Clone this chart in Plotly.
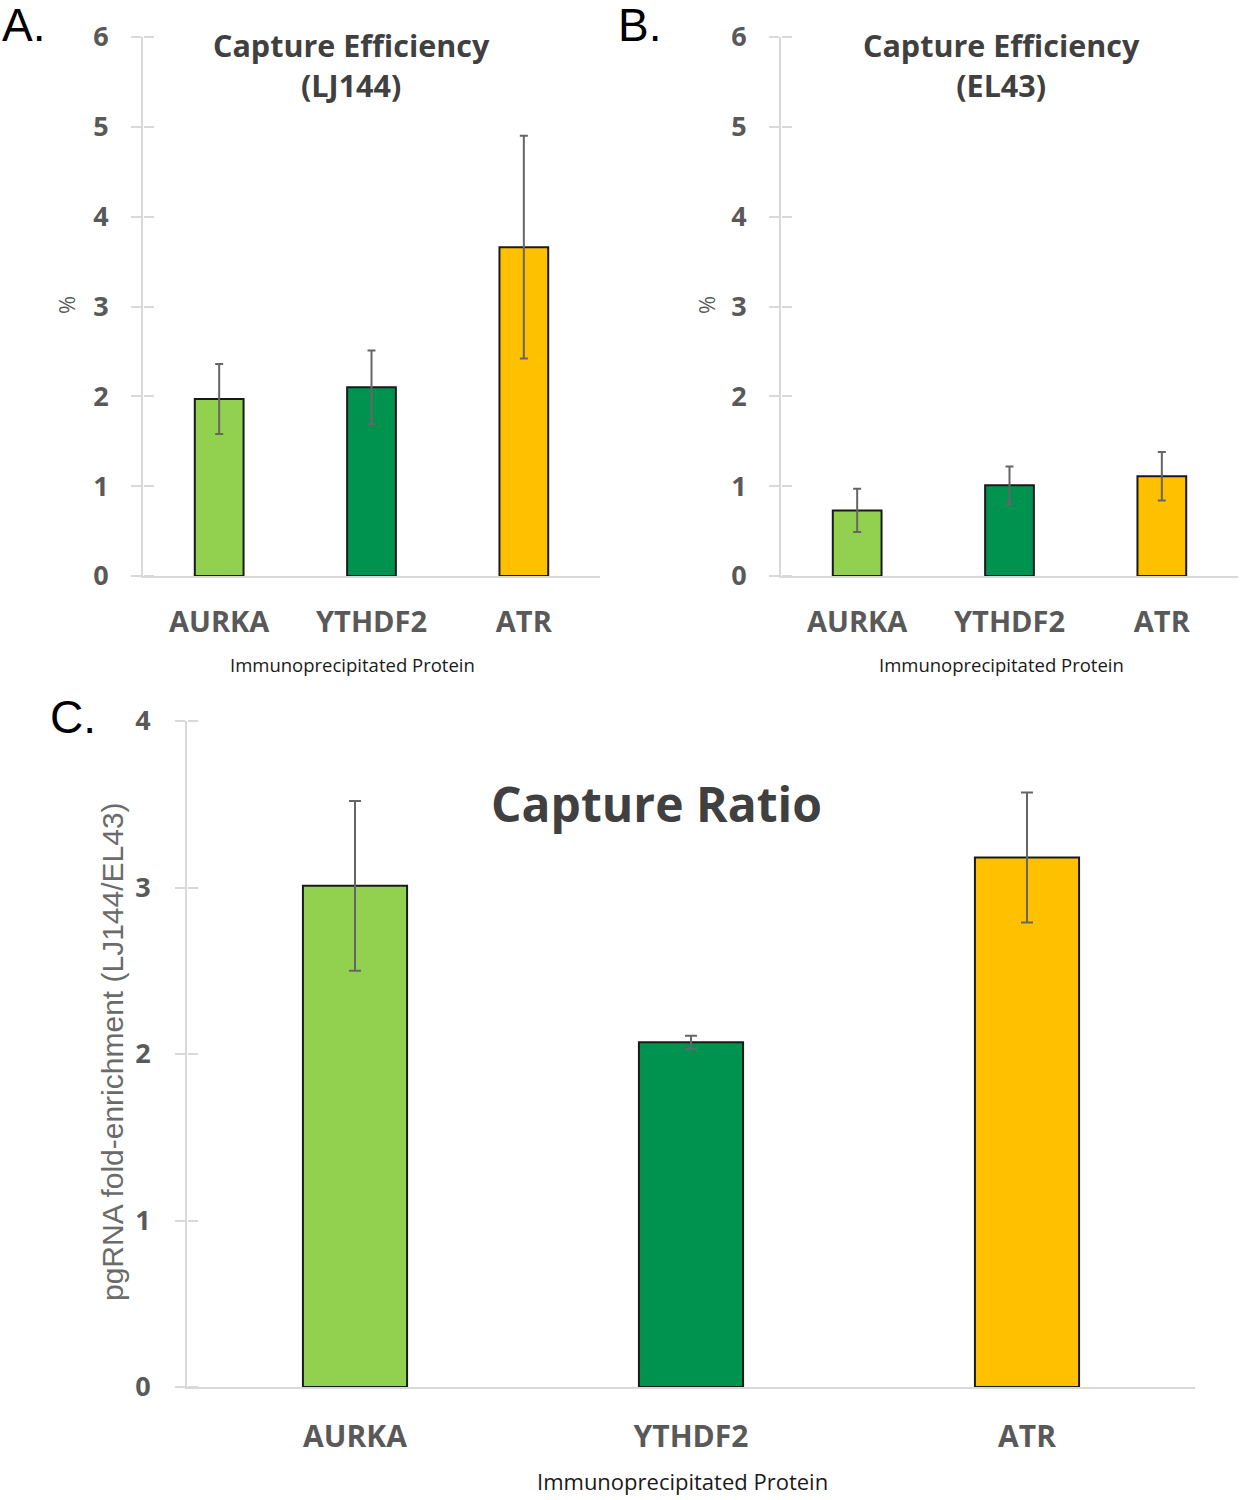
import plotly.graph_objects as go

categories = ["AURKA", "YTHDF2", "ATR"]
colors = ["#92D050", "#00924F", "#FFC000"]

lj144_values = [1.97, 2.10, 3.66]
lj144_errors = [0.39, 0.41, 1.24]

el43_values = [0.73, 1.01, 1.11]
el43_errors = [0.24, 0.21, 0.27]

ratio_values = [3.01, 2.07, 3.18]
ratio_errors = [0.51, 0.04, 0.39]

yticks_ab = [0, 1, 2, 3, 4, 5, 6]
yticks_c = [0, 1, 2, 3, 4]

TICKFONT = "Open Sans"
AXC = "#D9D9D9"
LABC = "#595959"
TITC = "#404040"

fig = go.Figure()

def add_bars(vals, errs, xa, ya, width, capw):
    fig.add_trace(go.Bar(
        x=categories, y=vals, xaxis=xa, yaxis=ya, width=width,
        marker=dict(color=colors, line=dict(color="#1a1a1a", width=2)),
        error_y=dict(type="data", array=errs, visible=True, color="#666666",
                     thickness=2, width=capw),
        showlegend=False))

add_bars(lj144_values, lj144_errors, "x", "y", 0.32, 4)
add_bars(el43_values, el43_errors, "x2", "y2", 0.32, 4)
add_bars(ratio_values, ratio_errors, "x3", "y3", 0.31, 6)

# dummy traces for overlay tick axes (ticks crossing the axis line)
for ya, xa in (("y4", "x"), ("y5", "x2"), ("y6", "x3")):
    fig.add_trace(go.Scatter(x=[categories[0]], y=[0], xaxis=xa, yaxis=ya,
                             mode="markers", marker=dict(opacity=0),
                             showlegend=False, hoverinfo="skip"))

dA = [143/1242, 600/1242]
dB = [781/1242, 1238/1242]
dC = [187/1242, 1195/1242]
yAB = [1-576/1500, 1-37/1500]
yC = [1-1387/1500, 1-721/1500]

def xax(domain, anchor, size, standoff):
    return dict(domain=domain, anchor=anchor, showline=True, linecolor=AXC, linewidth=2,
                showgrid=False, ticks="", zeroline=False, automargin=False,
                tickfont=dict(family=TICKFONT, size=size, color=LABC, weight="bold"),
                ticklabelstandoff=standoff, fixedrange=True)

def yax(domain, anchor, rng, tv, standoff):
    return dict(domain=domain, anchor=anchor, range=rng, tickvals=tv, showline=True,
                linecolor=AXC, linewidth=2, showgrid=False, zeroline=False, automargin=False,
                ticks="outside", ticklen=10, tickwidth=2, tickcolor=AXC,
                tickfont=dict(family=TICKFONT, size=27, color=LABC, weight="bold"),
                ticklabelstandoff=standoff)

def yov(domain, over, rng, tv, pos):
    return dict(domain=domain, overlaying=over, anchor="free", position=pos, side="right",
                range=rng, tickvals=tv, showline=False, showgrid=False, zeroline=False,
                ticks="outside", ticklen=10, tickwidth=2, tickcolor=AXC, automargin=False,
                showticklabels=False)

fig.update_layout(
    width=1242, height=1500, margin=dict(l=0, r=0, t=0, b=0, pad=0), autosize=False,
    paper_bgcolor="white", plot_bgcolor="white", bargap=0.68,
    xaxis=xax(dA, "y", 29, 19),
    yaxis=yax(yAB, "x", [0, 6], yticks_ab, 17),
    xaxis2=xax(dB, "y2", 29, 19),
    yaxis2=yax(yAB, "x2", [0, 6], yticks_ab, 17),
    xaxis3=xax(dC, "y3", 30, 22),
    yaxis3=yax(yC, "x3", [0, 4], yticks_c, 19),
    yaxis4=yov(yAB, "y", [0, 6], yticks_ab, dA[0]),
    yaxis5=yov(yAB, "y2", [0, 6], yticks_ab, dB[0]),
    yaxis6=yov(yC, "y3", [0, 4], yticks_c, dC[0]),
)

ann = []
def A(text, x, y, size, color, family=TICKFONT, bold=False, angle=0, xanchor="center"):
    ann.append(dict(text=text, x=x/1242, y=1-y/1500, xref="paper", yref="paper",
                    showarrow=False, xanchor=xanchor, yanchor="middle", textangle=angle,
                    font=dict(family=family, size=size, color=color,
                              weight="bold" if bold else "normal")))

A("A.", 0, 25, 46, "#000000", family="Liberation Sans", xanchor="left")
A("B.", 616, 25, 46, "#000000", family="Liberation Sans", xanchor="left")
A("C.", 48, 717, 46, "#000000", family="Liberation Sans", xanchor="left")
A("Capture Efficiency<br>(LJ144)", 351, 65, 30.5, TITC, bold=True)
A("Capture Efficiency<br>(EL43)", 1001, 65, 30.5, TITC, bold=True)
A("Capture Ratio", 656, 803, 48, TITC, bold=True)
A("Immunoprecipitated Protein", 352, 664, 18.5, "#1a1a1a")
A("Immunoprecipitated Protein", 1001, 664, 18.5, "#1a1a1a")
A("Immunoprecipitated Protein", 682, 1481, 22, "#1a1a1a")
A("%", 66, 305, 22, LABC, angle=-90)
A("%", 706, 305, 22, LABC, angle=-90)
A("pgRNA fold-enrichment (LJ144/EL43)", 112, 1052, 30, "#6b6b6b",
  family="Liberation Sans", angle=-90)
fig.update_layout(annotations=ann)

fig.write_html("out.html", config={"displayModeBar": False},
               post_script="document.body.style.margin='0';document.body.style.overflow='hidden';")
